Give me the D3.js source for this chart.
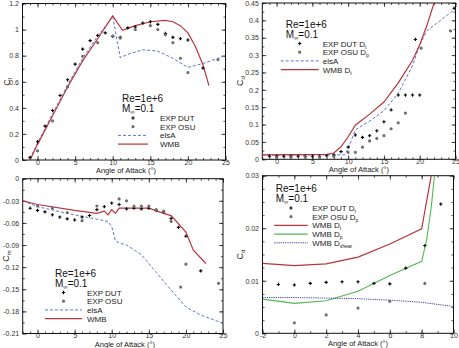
<!DOCTYPE html>
<html>
<head>
<meta charset="utf-8">
<script src="https://cdn.jsdelivr.net/npm/d3@7"></script>
<style>
  body { margin: 0; background: #fff; }
  svg text { font-family: "Liberation Sans", Arial, sans-serif; }
</style>
</head>
<body>
<svg id="chart" width="459" height="348"></svg>
<script>
// ---- lift coefficient ----
const clDutAoa = [-1, 0, 1, 2, 3, 4, 5, 6, 7, 8, 9, 10, 11, 12, 13, 14, 15, 16, 17, 18, 19, 20, 22];
const clDut = [0.02, 0.14, 0.26, 0.38, 0.495, 0.615, 0.735, 0.85, 0.915, 0.955, 0.975, 0.948, 0.94, 1.013, 1.02, 1.05, 1.06, 1.04, 0.97, 0.94, 0.93, 0.92, 0.705];
const clOsuAoa = [0, 2, 4, 6, 8, 10, 11, 13, 15, 16, 17, 18, 19, 20, 24];
const clOsu = [0.07, 0.30, 0.56, 0.795, 0.90, 0.95, 0.935, 1.0, 1.03, 1.0, 0.96, 0.90, 0.78, 0.67, 0.77];
const clElsaAoa = [-1, 0, 2, 4, 6, 8, 10, 11, 12, 14, 16, 18, 20, 22, 25];
const clElsa = [0.01, 0.13, 0.355, 0.575, 0.78, 0.95, 1.1, 0.785, 0.81, 0.845, 0.835, 0.78, 0.71, 0.74, 0.80];
const clWmbAoa = [-1, 0, 2, 4, 6, 8, 10, 11.3, 13, 15, 17, 18, 19, 20, 21, 22, 22.8];
const clWmb = [0.0, 0.12, 0.34, 0.56, 0.76, 0.93, 1.105, 0.995, 1.03, 1.06, 1.07, 1.06, 1.03, 0.975, 0.87, 0.73, 0.57];

// ---- drag coefficient ----
const cdDutAoa = [-1, 0, 1, 2, 3, 4, 5, 6, 7, 8, 9, 10, 11, 12, 13, 14, 15, 16, 17, 18, 19, 20, 19.4, 24.8];
const cdDut = [0.009, 0.009, 0.009, 0.009, 0.009, 0.009, 0.009, 0.009, 0.01, 0.012, 0.022, 0.035, 0.07, 0.063, 0.068, 0.082, 0.108, 0.142, 0.185, 0.185, 0.185, 0.185, 0.345, 0.435];
const cdOsuAoa = [0, 2, 4, 6, 8, 10, 11, 12, 13, 14, 15, 16, 17, 18, 20.2, 24.3];
const cdOsu = [0.005, 0.005, 0.006, 0.006, 0.008, 0.02, 0.02, 0.035, 0.053, 0.06, 0.068, 0.088, 0.105, 0.133, 0.32, 0.37];
const cdElsaAoa = [-2, 9.5, 10, 11, 13, 15, 17, 19, 20, 21, 25];
const cdElsa = [0.012, 0.013, 0.03, 0.085, 0.11, 0.14, 0.19, 0.27, 0.33, 0.37, 0.433];
const cdWmbAoa = [-2, 7, 8, 9, 10, 11, 13, 15, 17, 19, 20, 21, 22];
const cdWmb = [0.013, 0.014, 0.018, 0.036, 0.065, 0.098, 0.13, 0.165, 0.22, 0.285, 0.33, 0.385, 0.45];

// ---- pitching moment coefficient ----
const cmDutAoa = [-1, 0, 1, 2, 3, 4, 5, 6, 7, 8, 9, 10, 11, 12, 13, 14, 15, 16, 17, 18, 19, 20, 22];
const cmDut = [-0.040, -0.043, -0.045, -0.049, -0.052, -0.0545, -0.056, -0.052, -0.050, -0.042, -0.038, -0.033, -0.035, -0.041, -0.040, -0.041, -0.040, -0.043, -0.045, -0.054, -0.066, -0.078, -0.125];
const cmOsuAoa = [0, 2, 4, 6, 8, 11, 12, 13, 14, 15, 16, 17, 18, 19.3, 20, 24.4];
const cmOsu = [-0.037, -0.040, -0.046, -0.057, -0.037, -0.0275, -0.030, -0.037, -0.037, -0.037, -0.042, -0.044, -0.058, -0.147, -0.116, -0.142];
const cmElsaAoa = [-2, 0, 4, 8, 9.5, 10, 10.5, 11, 12, 14, 16, 18, 20, 22, 25];
const cmElsa = [-0.030, -0.038, -0.047, -0.055, -0.058, -0.065, -0.084, -0.087, -0.090, -0.103, -0.127, -0.151, -0.174, -0.185, -0.196];
const cmWmbAoa = [-2, 0, 5, 8, 9, 9.5, 10, 10.5, 11, 12, 15, 17, 18, 20, 21, 22.7];
const cmWmb = [-0.030, -0.035, -0.043, -0.047, -0.044, -0.049, -0.042, -0.047, -0.040, -0.040, -0.040, -0.047, -0.050, -0.0725, -0.097, -0.115];

// ---- drag breakdown at low incidence ----
const dtDutAoa = [-1, 0, 1, 2, 3, 4, 5, 6, 7, 8.2, 9.2];
const dtDut = [0.0093, 0.0092, 0.0095, 0.0097, 0.0098, 0.0098, 0.0095, 0.0094, 0.0124, 0.0167, 0.0246];
const dpOsuAoa = [0, 2, 4, 6, 8.2];
const dpOsu = [0.002, 0.0035, 0.0048, 0.0061, 0.0095];
const wmbDtAoa = [-2, 0, 2, 4, 6, 8, 8.6];
const wmbDt = [0.0133, 0.0129, 0.0132, 0.0145, 0.017, 0.0199, 0.03];
const wmbDpAoa = [-2, 0, 2, 4, 6, 8, 8.3, 8.6, 8.8];
const wmbDp = [0.0065, 0.0057, 0.0062, 0.008, 0.011, 0.0137, 0.0176, 0.0239, 0.03];
const wmbDsAoa = [-2, 0, 2, 4, 6, 8, 10];
const wmbDs = [0.0068, 0.0068, 0.0067, 0.0066, 0.0063, 0.0059, 0.0051];

const RED = "#b9343c", BLUE = "#5b78c9", GREEN = "#52b852", NAVY = "#3d3da6";
const svg = d3.select("#chart");
const fmt = d => String(+d.toFixed(3));
const zip = (xs, ys) => xs.map((x, i) => [x, ys[i]]);

function panel(p) {
  const x = d3.scaleLinear().domain(p.xDomain).range([p.left, p.right]);
  const y = d3.scaleLinear().domain(p.yDomain).range([p.bottom, p.top]);
  const g = svg.append("g");
  const clipId = "clip" + p.id;
  g.append("clipPath").attr("id", clipId).append("rect")
    .attr("x", p.left).attr("y", p.top)
    .attr("width", p.right - p.left).attr("height", p.bottom - p.top);

  // axes, ticks point inwards and are mirrored on the opposite sides
  const axes = [
    [d3.axisBottom, x, "translate(0," + p.bottom + ")", p.xMajor, p.xMinor, true, 0],
    [d3.axisTop, x, "translate(0," + p.top + ")", p.xMajor, p.xMinor, false, 0],
    [d3.axisLeft, y, "translate(" + p.left + ",0)", p.yMajor, p.yMinor, true, 3.5],
    [d3.axisRight, y, "translate(" + p.right + ",0)", p.yMajor, p.yMinor, false, 0]
  ];
  axes.forEach(([mk, sc, tr, major, minor, labels, pad]) => {
    const a = g.append("g").attr("transform", tr)
      .call(mk(sc).tickValues(major).tickSize(-4).tickPadding(pad)
        .tickFormat(labels ? fmt : ""));
    a.select(".domain").remove();
    a.selectAll("text").attr("font-size", 7).attr("fill", "#333");
    const m = g.append("g").attr("transform", tr)
      .call(mk(sc).tickValues(minor).tickSize(-2).tickFormat(""));
    m.select(".domain").remove();
  });
  g.selectAll(".tick line").attr("stroke", "#222").attr("stroke-width", 0.8);

  g.append("rect").attr("x", p.left).attr("y", p.top)
    .attr("width", p.right - p.left).attr("height", p.bottom - p.top)
    .attr("fill", "none").attr("stroke", "#111").attr("stroke-width", 1);

  const line = d3.line().x(d => x(d[0])).y(d => y(d[1]));
  const plot = g.append("g").attr("clip-path", "url(#" + clipId + ")");
  p.lines.forEach(l => {
    plot.append("path").datum(zip(l.xs, l.ys)).attr("d", line)
      .attr("fill", "none").attr("stroke", l.color).attr("stroke-width", l.width || 1)
      .attr("stroke-dasharray", l.dash || null);
  });
  p.points.forEach(s => {
    plot.selectAll(null).data(zip(s.xs, s.ys)).join("path")
      .attr("transform", d => "translate(" + x(d[0]) + "," + y(d[1]) + ")")
      .attr("d", d3.symbol().type(s.shape).size(s.size))
      .attr("fill", s.color);
  });

  // titles
  g.append("text").attr("x", (p.left + p.right) / 2 + p.titleShift).attr("y", p.bottom + 13)
    .attr("text-anchor", "middle").attr("font-size", 7.5).attr("fill", "#222")
    .text("Angle of Attack (°)");
  const yl = g.append("text")
    .attr("transform", "translate(" + (p.left - p.yTitleGap) + "," + ((p.top + p.bottom) / 2) + ") rotate(-90)")
    .attr("text-anchor", "middle").attr("font-size", 9).attr("fill", "#222");
  yl.append("tspan").text("C");
  yl.append("tspan").attr("font-size", 6).attr("dy", 2).text(p.ySub);

  // legend
  const lg = g.append("g").attr("transform", "translate(" + p.legX + "," + p.legY + ")");
  lg.append("text").attr("x", 0).attr("y", 0).attr("font-size", 10).attr("fill", "#111").text("Re=1e+6");
  const mt = lg.append("text").attr("x", 0).attr("y", 10).attr("font-size", 10).attr("fill", "#111");
  mt.append("tspan").text("M");
  mt.append("tspan").attr("font-size", 6).attr("dy", 2).text("∞");
  mt.append("tspan").attr("dy", -2).text("=0.1");
  p.legend.forEach((e, i) => {
    const yy = 19 + i * 8.7;
    if (e.shape) {
      lg.append("path").attr("transform", "translate(" + (p.legLine[0] + p.legLine[1]) / 2 + "," + (yy - 3) + ")")
        .attr("d", d3.symbol().type(e.shape).size(e.size)).attr("fill", e.color);
    } else {
      lg.append("line").attr("x1", p.legLine[0]).attr("x2", p.legLine[1])
        .attr("y1", yy - 3).attr("y2", yy - 3)
        .attr("stroke", e.color).attr("stroke-width", e.width || 1)
        .attr("stroke-dasharray", e.dash || null);
    }
    const t = lg.append("text").attr("x", p.legText).attr("y", yy)
      .attr("font-size", 8).attr("fill", "#222");
    t.append("tspan").text(e.label);
    if (e.sub) t.append("tspan").attr("font-size", 5).attr("dy", 2).text(e.sub);
  });
}

const dutStyle = { shape: d3.symbolCross, size: 6, color: "#000" };
const osuStyle = { shape: d3.symbolCircle, size: 8, color: "#6f6f6f" };
const range = (a, b, s) => d3.range(a, b + s / 2, s);

panel({
  id: 1, left: 22.5, right: 225.5, top: 3.5, bottom: 160,
  xDomain: [-2, 25], yDomain: [0, 1.2],
  xMajor: range(0, 25, 5), xMinor: range(-2, 25, 1),
  yMajor: range(0, 1.2, 0.2), yMinor: range(0, 1.2, 0.1),
  ySub: "l", titleShift: 2, yTitleGap: 12.5,
  lines: [
    { xs: clElsaAoa, ys: clElsa, color: BLUE, dash: "3,2" },
    { xs: clWmbAoa, ys: clWmb, color: RED, width: 1.2 }
  ],
  points: [
    Object.assign({ xs: clDutAoa, ys: clDut }, dutStyle),
    Object.assign({ xs: clOsuAoa, ys: clOsu }, osuStyle)
  ],
  legX: 122, legY: 102, legLine: [-4, 26], legText: 38,
  legend: [
    Object.assign({ label: "EXP DUT" }, dutStyle),
    Object.assign({ label: "EXP OSU" }, osuStyle),
    { label: "elsA", color: BLUE, dash: "3,2" },
    { label: "WMB", color: RED, width: 1.2 }
  ]
});

panel({
  id: 2, left: 262.3, right: 455.5, top: 3, bottom: 159.3,
  xDomain: [-2, 25], yDomain: [0, 0.45],
  xMajor: range(0, 25, 5), xMinor: range(-2, 25, 1),
  yMajor: range(0, 0.45, 0.05), yMinor: range(0, 0.45, 0.025),
  ySub: "d", titleShift: 0, yTitleGap: 19,
  lines: [
    { xs: cdElsaAoa, ys: cdElsa, color: BLUE, dash: "3,2" },
    { xs: cdWmbAoa, ys: cdWmb, color: RED, width: 1.2 }
  ],
  points: [
    Object.assign({ xs: cdDutAoa, ys: cdDut }, dutStyle),
    Object.assign({ xs: cdOsuAoa, ys: cdOsu }, osuStyle)
  ],
  legX: 285.7, legY: 27.5, legLine: [-5, 33], legText: 37,
  legend: [
    Object.assign({ label: "EXP DUT D", sub: "t" }, dutStyle),
    Object.assign({ label: "EXP OSU D", sub: "p" }, osuStyle),
    { label: "elsA", color: BLUE, dash: "3,2" },
    { label: "WMB D", sub: "t", color: RED, width: 1.2 }
  ]
});

panel({
  id: 3, left: 22.7, right: 223, top: 178.7, bottom: 333.5,
  xDomain: [-2, 25], yDomain: [-0.21, 0],
  xMajor: range(0, 25, 5), xMinor: range(-2, 25, 1),
  yMajor: range(-0.21, 0, 0.03), yMinor: range(-0.21, 0, 0.015),
  ySub: "m", titleShift: 2, yTitleGap: 13.5,
  lines: [
    { xs: cmElsaAoa, ys: cmElsa, color: BLUE, dash: "3,2" },
    { xs: cmWmbAoa, ys: cmWmb, color: RED, width: 1.2 }
  ],
  points: [
    Object.assign({ xs: cmDutAoa, ys: cmDut }, dutStyle),
    Object.assign({ xs: cmOsuAoa, ys: cmOsu }, osuStyle)
  ],
  legX: 55, legY: 276.5, legLine: [-10, 27], legText: 32,
  legend: [
    Object.assign({ label: "EXP DUT" }, dutStyle),
    Object.assign({ label: "EXP OSU" }, osuStyle),
    { label: "elsA", color: BLUE, dash: "3,2" },
    { label: "WMB", color: RED, width: 1.2 }
  ]
});

panel({
  id: 4, left: 262.5, right: 453.5, top: 175.7, bottom: 333.3,
  xDomain: [-2, 10], yDomain: [0, 0.03],
  xMajor: range(-2, 10, 2), xMinor: range(-2, 10, 1),
  yMajor: range(0, 0.03, 0.01), yMinor: range(0, 0.03, 0.0025),
  ySub: "d", titleShift: 0, yTitleGap: 20,
  lines: [
    { xs: wmbDtAoa, ys: wmbDt, color: RED, width: 1.2 },
    { xs: wmbDpAoa, ys: wmbDp, color: GREEN, width: 1.1 },
    { xs: wmbDsAoa, ys: wmbDs, color: NAVY, dash: "1.2,1" }
  ],
  points: [
    Object.assign({ xs: dtDutAoa, ys: dtDut }, dutStyle),
    Object.assign({ xs: dpOsuAoa, ys: dpOsu }, osuStyle)
  ],
  legX: 275.7, legY: 192, legLine: [-1.5, 32], legText: 36.5,
  legend: [
    Object.assign({ label: "EXP DUT D", sub: "t" }, dutStyle),
    Object.assign({ label: "EXP OSU D", sub: "p" }, osuStyle),
    { label: "WMB D", sub: "t", color: RED, width: 1.2 },
    { label: "WMB D", sub: "p", color: GREEN, width: 1.1 },
    { label: "WMB D", sub: "shear", color: NAVY, dash: "1.2,1" }
  ]
});
</script>
</body>
</html>
